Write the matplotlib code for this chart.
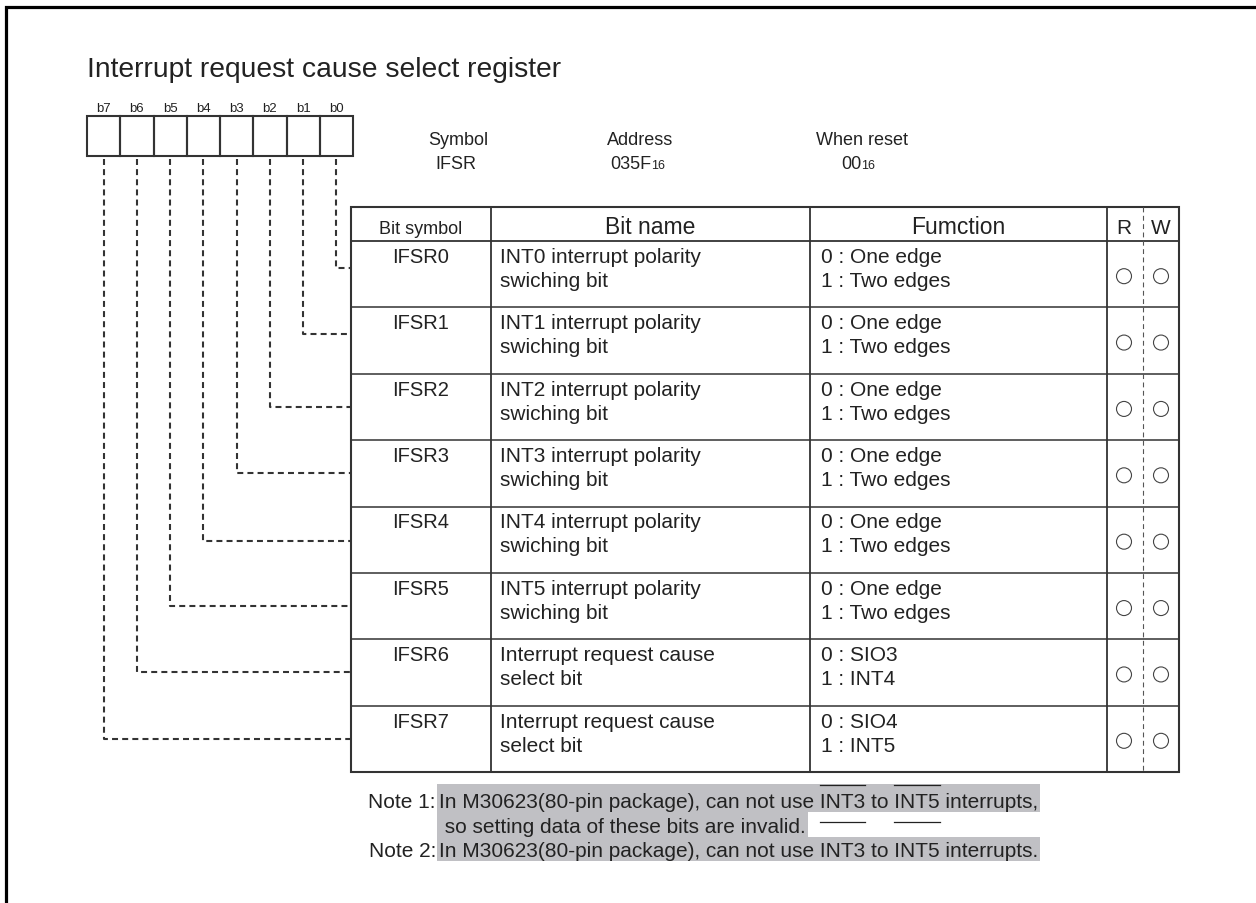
import matplotlib.pyplot as plt
from matplotlib.patches import Rectangle, Circle
from matplotlib.font_manager import FontProperties

plt.rcParams['font.family'] = ['Liberation Sans', 'DejaVu Sans']
plt.rcParams['lines.scale_dashes'] = False

title = 'Interrupt request cause select register'
bit_labels = ['b7', 'b6', 'b5', 'b4', 'b3', 'b2', 'b1', 'b0']
info_labels = ['Symbol', 'Address', 'When reset']
info_values = ['IFSR', '035F', '00']
info_subs = ['', '16', '16']
header_cols = ['Bit symbol', 'Bit name', 'Fumction']
bit_symbols = ['IFSR0', 'IFSR1', 'IFSR2', 'IFSR3', 'IFSR4', 'IFSR5', 'IFSR6', 'IFSR7']
name_line1 = ['INT0 interrupt polarity', 'INT1 interrupt polarity', 'INT2 interrupt polarity',
              'INT3 interrupt polarity', 'INT4 interrupt polarity', 'INT5 interrupt polarity',
              'Interrupt request cause', 'Interrupt request cause']
name_line2 = ['swiching bit'] * 6 + ['select bit'] * 2
func_line1 = ['0 : One edge'] * 6 + ['0 : SIO3', '0 : SIO4']
func_line2 = ['1 : Two edges'] * 6 + ['1 : INT4', '1 : INT5']
note_heads = ['Note 1:', '', 'Note 2:']
note_texts = ['In M30623(80-pin package), can not use INT3 to INT5 interrupts,',
              ' so setting data of these bits are invalid.',
              'In M30623(80-pin package), can not use INT3 to INT5 interrupts.']

W, H = 1256, 904
fig = plt.figure(figsize=(W / 100, H / 100), dpi=100)
ax = fig.add_axes([0, 0, 1, 1])
ax.set_xlim(0, W)
ax.set_ylim(H, 0)
ax.axis('off')
renderer = fig.canvas.get_renderer()

txt = '#222222'
line = '#333333'
note_fs = 15


def text_width(s, size):
    w, h, d = renderer.get_text_width_height_descent(s, FontProperties(family='Liberation Sans', size=size),
                                                     ismath=False)
    return w


# outer frame (top and left only)
ax.plot([6, 6, W], [H, 8, 8], color='black', lw=2.3, solid_joinstyle='miter')

ax.text(87, 77, title, fontsize=20.3, color=txt, va='baseline')

# bit boxes
box_l, box_r, box_t, box_b = 87, 353, 117, 157
bw = (box_r - box_l) / len(bit_labels)
for i, b in enumerate(bit_labels):
    ax.add_patch(Rectangle((box_l + i * bw, box_t), bw, box_b - box_t, fill=False, ec=line, lw=1.5))
    ax.text(box_l + (i + 0.5) * bw, 112, b, fontsize=9.5, color=txt, ha='center', va='baseline')

# symbol / address / reset
label_x = [458, 640, 862]
value_x = [456, 638, 858]
for lab, val, sub, lx, vx in zip(info_labels, info_values, info_subs, label_x, value_x):
    ax.text(lx, 145, lab, fontsize=13, color=txt, ha='center', va='baseline')
    w1 = text_width(val, 13)
    w2 = text_width(sub, 9) if sub else 0
    x0 = vx - (w1 + w2) / 2
    ax.text(x0, 169, val, fontsize=13, color=txt, va='baseline')
    if sub:
        ax.text(x0 + w1, 169, sub, fontsize=9, color=txt, va='baseline')

# table
cols = [351, 491, 810, 1107, 1179]
rw_div = 1143
top, head_b, bottom = 208, 242, 773
n = len(bit_symbols)
rh = (bottom - head_b) / n
ax.add_patch(Rectangle((cols[0], top), cols[-1] - cols[0], bottom - top, fill=False, ec=line, lw=1.5))
for c in cols[1:-1]:
    ax.plot([c, c], [top, bottom], color=line, lw=1.3)
ax.plot([cols[0], cols[-1]], [head_b, head_b], color=line, lw=1.3)
for k in range(1, n):
    y = head_b + k * rh
    ax.plot([cols[0], cols[-1]], [y, y], color=line, lw=1.1)
ax.plot([rw_div, rw_div], [top, bottom], color='#555555', lw=0.8, ls=(0, (3.5, 2.5)))

head_sizes = [13, 16.5, 16.5]
for j, (h, s) in enumerate(zip(header_cols, head_sizes)):
    ax.text((cols[j] + cols[j + 1]) / 2, 234, h, fontsize=s, color=txt, ha='center', va='baseline')
ax.text(1124, 234, 'R', fontsize=15, color=txt, ha='center', va='baseline')
ax.text(1161, 234, 'W', fontsize=15, color=txt, ha='center', va='baseline')

conn_off = [27, 27, 33, 33, 34, 33, 33, 33]
for k in range(n):
    rt = head_b + k * rh
    ax.text((cols[0] + cols[1]) / 2, rt + 21, bit_symbols[k], fontsize=14.5, color=txt, ha='center',
            va='baseline')
    ax.text(500, rt + 21, name_line1[k], fontsize=15, color=txt, va='baseline')
    ax.text(500, rt + 45, name_line2[k], fontsize=15, color=txt, va='baseline')
    ax.text(821, rt + 21, func_line1[k], fontsize=15, color=txt, va='baseline')
    ax.text(821, rt + 45, func_line2[k], fontsize=15, color=txt, va='baseline')
    for cx in (1124, 1161):
        ax.add_patch(Circle((cx, rt + rh / 2 + 2), 7.5, fill=False, ec='#444444', lw=0.8))
    # connector from bit box k to the row
    bx = box_l + (7 - k + 0.5) * bw
    cy = rt + conn_off[k]
    ax.plot([bx, bx, cols[0]], [box_b + 3, cy, cy], color=line, lw=1.5, ls=(0, (4.3, 3)))

# notes with highlight
note_base = [808, 833, 857]
hl_top = [785, 813, 838]
hl_bot = [813, 838, 862]
for head, body, yb, t0, t1 in zip(note_heads, note_texts, note_base, hl_top, hl_bot):
    wb = text_width(body, note_fs)
    ax.add_patch(Rectangle((437, t0), wb + 4, t1 - t0, fc='#c0c0c4', ec='none', zorder=0))
    if head:
        ax.text(437 - text_width(head, note_fs) - 1, yb, head, fontsize=note_fs, color=txt, va='baseline')
    ax.text(439, yb, body, fontsize=note_fs, color=txt, va='baseline')

# overlines on INT3 / INT5
pre1 = 'In M30623(80-pin package), can not use '
pre2 = pre1 + 'INT3 to '
for yo in (786, 823):
    for pre in (pre1, pre2):
        x0 = 439 + text_width(pre, note_fs)
        x1 = x0 + text_width('INT3', note_fs)
        ax.plot([x0, x1], [yo, yo], color=txt, lw=0.9)

fig.savefig('out.png', dpi=100)
